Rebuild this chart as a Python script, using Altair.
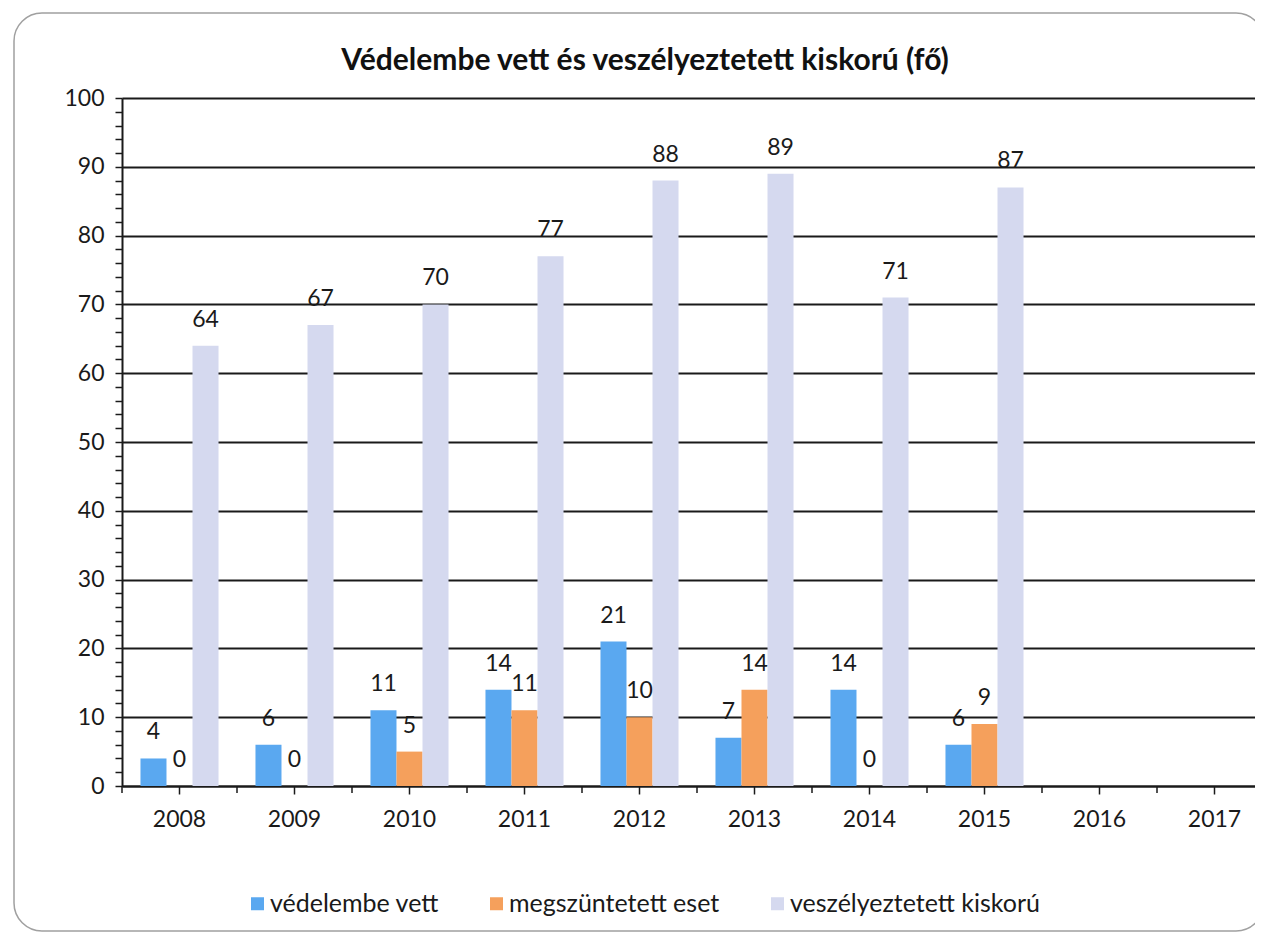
import altair as alt
import pandas as pd

# ---- data ----
title_text = "Védelembe vett és veszélyeztetett kiskorú (fő)"
years = ["2008", "2009", "2010", "2011", "2012", "2013", "2014", "2015", "2016", "2017"]
data_years = ["2008", "2009", "2010", "2011", "2012", "2013", "2014", "2015"]
vedelembe_vett = [4, 6, 11, 14, 21, 7, 14, 6]
megszuntetett_eset = [0, 0, 5, 11, 10, 14, 0, 9]
veszelyeztetett_kiskoru = [64, 67, 70, 77, 88, 89, 71, 87]
series = ["védelembe vett", "megszüntetett eset", "veszélyeztetett kiskorú"]
colors = ["#5aa8f0", "#f5a05c", "#d5d9ef"]
y_ticks = list(range(0, 101, 2))

rows = []
for name, vals in zip(series, [vedelembe_vett, megszuntetett_eset, veszelyeztetett_kiskoru]):
    for yr, v in zip(data_years, vals):
        rows.append({"year": yr, "series": name, "value": v})
df = pd.DataFrame(rows)

W, H = 1150, 688
FONT = "Lato"
INK = "#1a1a1a"


def xenc(**kw):
    return alt.X(
        "year:N",
        scale=alt.Scale(domain=years, paddingInner=0, paddingOuter=0),
        axis=alt.Axis(
            title=None, labelAngle=0, labelFont=FONT, labelFontSize=23,
            labelColor=INK, tickSize=8, tickColor=INK, tickWidth=1.5,
            domainColor=INK, domainWidth=2, labelPadding=14, grid=False,
        ),
        **kw,
    )


yenc = alt.Y(
    "value:Q",
    scale=alt.Scale(domain=[0, 100], nice=False, zero=True),
    axis=alt.Axis(
        title=None, values=y_ticks,
        labelExpr="datum.value % 10 === 0 ? datum.label : ''",
        labelOverlap=False, labelFont=FONT, labelFontSize=23, labelColor=INK,
        labelPadding=11, tickSize=7, tickColor=INK, tickWidth=1.5,
        domainColor=INK, domainWidth=2,
        grid=True, gridColor=INK, gridWidth=2,
        gridOpacity={"condition": {"test": "datum.value % 10 === 0", "value": 1}, "value": 0},
    ),
)

xoff = alt.XOffset(
    "series:N",
    scale=alt.Scale(domain=series, paddingInner=0, paddingOuter=0.71),
)

color = alt.Color(
    "series:N",
    scale=alt.Scale(domain=series, range=colors),
    legend=alt.Legend(
        title=None, orient="none", direction="horizontal",
        legendX=123, legendY=793,
        symbolType="square", symbolSize=169, symbolStrokeWidth=0,
        labelFont=FONT, labelFontSize=25, labelColor=INK, labelLimit=500,
        labelOffset=0, columnPadding=45,
    ),
)

bars = alt.Chart(df).mark_bar().encode(x=xenc(), xOffset=xoff, y=yenc, color=color)

labels = alt.Chart(df).mark_text(
    baseline="alphabetic", dy=-19, font=FONT, fontSize=23, color=INK
).encode(x=xenc(), xOffset=xoff, y=yenc, text="value:Q")

bound_ticks = alt.Chart(pd.DataFrame({"year": years})).mark_rule(
    color=INK, strokeWidth=1.5
).encode(x=xenc(bandPosition=0), y=alt.value(H), y2=alt.value(H + 7))

frame = alt.Chart(pd.DataFrame({"f": [0]})).mark_rect(
    fill="transparent", stroke="#a0a0a0", strokeWidth=1.5, cornerRadius=28
).encode(x=alt.value(-108), x2=alt.value(1142), y=alt.value(-85), y2=alt.value(833))

title = alt.Chart(pd.DataFrame({"t": [title_text]})).mark_text(
    font=FONT, fontSize=30, fontWeight="bold", color="#111",
    align="center", baseline="alphabetic",
).encode(text="t:N", x=alt.value(523), y=alt.value(-28))

chart = alt.layer(frame, title, bars, bound_ticks, labels).properties(
    width=W, height=H,
    autosize=alt.AutoSizeParams(type="none"),
    padding={"left": 114, "top": 90, "right": -17, "bottom": 147},
).configure_view(stroke=None).configure(background="white")

chart.save("out.html", embed_options={"renderer": "svg", "actions": False})
